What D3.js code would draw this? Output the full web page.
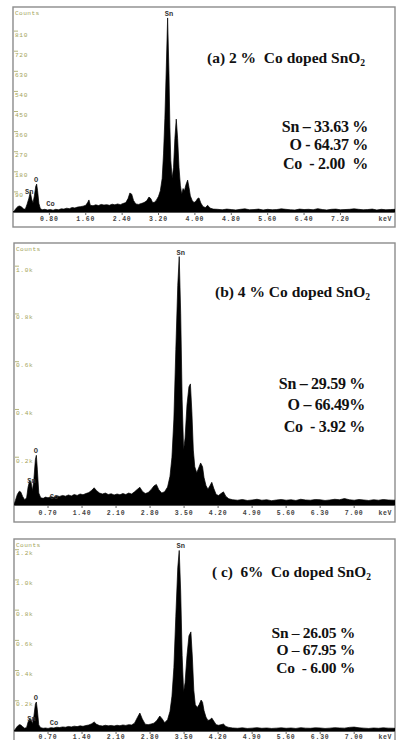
<!DOCTYPE html>
<html><head><meta charset="utf-8">
<script src="https://cdn.jsdelivr.net/npm/d3@7"></script>
<style>
html,body{margin:0;padding:0;background:#fff;}
svg{display:block;}
text{white-space:pre;}
</style></head>
<body>
<svg id="c" width="396" height="740"></svg>
<script>
// ---------- DATA ----------
// Panel (a) 2 % Co doped SnO2 : [energy keV, counts]
const specA = [[0.00,0],[0.03,6],[0.07,17],[0.11,25],[0.15,27],[0.19,22],[0.23,14],[0.27,12],[0.31,35],[0.35,62],[0.38,90],[0.41,58],[0.44,40],[0.47,72],[0.50,115],[0.52,125],[0.54,96],[0.57,38],[0.60,16],[0.64,10],[0.70,12],[0.76,9],[0.82,11],[0.88,8],[0.94,12],[1.00,10],[1.06,14],[1.12,13],[1.18,17],[1.24,15],[1.30,20],[1.36,18],[1.42,22],[1.48,24],[1.54,26],[1.60,30],[1.64,42],[1.67,54],[1.70,30],[1.76,28],[1.82,32],[1.88,29],[1.94,34],[2.00,31],[2.06,33],[2.12,30],[2.18,35],[2.24,32],[2.30,36],[2.36,33],[2.42,38],[2.48,42],[2.53,60],[2.57,85],[2.61,80],[2.65,52],[2.70,36],[2.76,34],[2.82,38],[2.88,42],[2.94,50],[2.99,67],[3.03,60],[3.07,42],[3.11,44],[3.15,52],[3.20,70],[3.24,95],[3.28,150],[3.31,260],[3.34,420],[3.37,640],[3.40,869],[3.43,620],[3.45,380],[3.47,230],[3.50,150],[3.53,200],[3.56,330],[3.59,416],[3.62,330],[3.65,200],[3.68,120],[3.71,80],[3.74,105],[3.77,95],[3.80,120],[3.84,143],[3.87,110],[3.90,72],[3.94,52],[3.98,42],[4.02,48],[4.06,60],[4.09,63],[4.13,40],[4.18,24],[4.23,20],[4.28,30],[4.33,18],[4.40,13],[4.5,12],[4.6,10],[4.7,13],[4.8,11],[4.9,9],[5.0,12],[5.1,14],[5.2,10],[5.3,11],[5.4,13],[5.5,9],[5.6,12],[5.7,10],[5.8,11],[5.9,14],[6.0,12],[6.1,10],[6.2,9],[6.3,13],[6.4,11],[6.5,12],[6.6,10],[6.7,15],[6.8,11],[6.9,9],[7.0,12],[7.1,13],[7.2,10],[7.3,11],[7.4,12],[7.5,14],[7.6,12],[7.7,10],[7.8,11],[7.9,13],[8.0,9],[8.1,12],[8.2,10],[8.3,11],[8.4,12]];

// Panel (b) 4 % Co doped SnO2
const specB = [[0.00,0],[0.03,20],[0.07,45],[0.11,58],[0.14,54],[0.18,35],[0.22,22],[0.26,30],[0.29,75],[0.32,100],[0.35,96],[0.38,60],[0.41,110],[0.44,190],[0.46,208],[0.48,150],[0.51,50],[0.55,30],[0.60,28],[0.65,33],[0.70,30],[0.76,35],[0.82,32],[0.88,38],[0.94,36],[1.00,40],[1.06,37],[1.12,42],[1.18,38],[1.24,44],[1.30,40],[1.36,46],[1.42,43],[1.48,48],[1.54,52],[1.60,62],[1.65,72],[1.70,60],[1.76,50],[1.82,46],[1.88,50],[1.94,44],[2.00,47],[2.06,42],[2.12,46],[2.18,43],[2.24,48],[2.30,44],[2.36,50],[2.42,46],[2.48,55],[2.54,66],[2.59,74],[2.64,58],[2.70,48],[2.76,52],[2.82,64],[2.88,80],[2.93,86],[2.98,64],[3.04,50],[3.10,56],[3.16,75],[3.21,120],[3.25,200],[3.29,360],[3.33,650],[3.37,920],[3.40,1040],[3.43,800],[3.46,440],[3.49,230],[3.52,280],[3.56,420],[3.60,495],[3.63,507],[3.66,390],[3.69,230],[3.72,160],[3.76,135],[3.80,155],[3.84,176],[3.88,160],[3.91,115],[3.95,82],[3.99,66],[4.03,80],[4.07,95],[4.11,70],[4.16,44],[4.21,40],[4.26,48],[4.31,55],[4.36,36],[4.42,26],[4.5,22],[4.6,20],[4.7,23],[4.8,19],[4.9,21],[5.0,24],[5.1,20],[5.2,22],[5.3,18],[5.4,21],[5.5,23],[5.6,20],[5.7,22],[5.8,19],[5.9,24],[6.0,21],[6.1,20],[6.2,23],[6.3,22],[6.4,19],[6.5,21],[6.6,24],[6.7,22],[6.8,27],[6.9,22],[7.0,20],[7.1,23],[7.2,21],[7.3,19],[7.4,22],[7.5,20],[7.6,23],[7.7,21],[7.84,20]];

// Panel (c) 6 % Co doped SnO2
const specC = [[0.00,0],[0.03,14],[0.07,32],[0.11,42],[0.14,40],[0.18,28],[0.22,18],[0.26,24],[0.29,60],[0.32,80],[0.35,76],[0.38,48],[0.41,100],[0.44,178],[0.46,192],[0.48,140],[0.51,40],[0.55,22],[0.60,18],[0.65,20],[0.70,17],[0.76,22],[0.82,20],[0.88,25],[0.94,23],[1.00,27],[1.06,25],[1.12,30],[1.18,27],[1.24,32],[1.30,29],[1.36,34],[1.42,31],[1.48,36],[1.54,40],[1.60,48],[1.65,60],[1.70,44],[1.76,36],[1.82,33],[1.88,38],[1.94,34],[2.00,37],[2.06,33],[2.12,38],[2.18,35],[2.24,40],[2.30,37],[2.36,42],[2.42,40],[2.48,52],[2.54,90],[2.59,119],[2.64,80],[2.70,45],[2.76,42],[2.82,46],[2.88,52],[2.94,70],[3.00,99],[3.05,80],[3.10,55],[3.16,75],[3.21,130],[3.25,230],[3.29,420],[3.33,760],[3.37,1080],[3.40,1195],[3.43,920],[3.46,500],[3.49,260],[3.52,320],[3.56,500],[3.60,630],[3.64,656],[3.67,490],[3.70,270],[3.73,175],[3.77,155],[3.81,175],[3.85,205],[3.88,190],[3.91,135],[3.95,92],[3.99,70],[4.03,74],[4.07,86],[4.11,66],[4.16,42],[4.21,38],[4.26,42],[4.31,46],[4.36,30],[4.42,24],[4.5,20],[4.6,18],[4.7,21],[4.8,17],[4.9,19],[5.0,22],[5.1,18],[5.2,20],[5.3,17],[5.4,19],[5.5,21],[5.6,18],[5.7,20],[5.8,17],[5.9,22],[6.0,19],[6.1,18],[6.2,21],[6.3,20],[6.4,17],[6.5,19],[6.6,22],[6.7,20],[6.8,19],[6.9,24],[7.0,26],[7.1,21],[7.2,19],[7.3,17],[7.4,20],[7.5,18],[7.6,21],[7.7,19],[7.84,18]];

const yTicksA = [90,180,270,360,450,540,630,720,810];
const yTickLabelsA = ["90","180","270","360","450","540","630","720","810"];
const yTicksBC = [200,400,600,800,1000,1200];
const yTickLabelsBC = ["0.2k","0.4k","0.6k","0.8k","1.0k","1.2k"];
const xTicksA = [0.8,1.6,2.4,3.2,4.0,4.8,5.6,6.4,7.2];
const xTicksBC = [0.7,1.4,2.1,2.8,3.5,4.2,4.9,5.6,6.3,7.0];

const titles = ["(a) 2 %  Co doped SnO", "(b) 4 % Co doped SnO", "( c)  6%  Co doped SnO"];
const compA = ["Sn \u2013 33.63 %", "O - 64.37 %", "Co  - 2.00  %"];
const compB = ["Sn \u2013 29.59 %", "O \u2013 66.49%", "Co  - 3.92 %"];
const compC = ["Sn \u2013 26.05 %", "O \u2013 67.95 %", "Co  - 6.00 %"];
const peakLabels = [["Sn",3.41],["Sn",0.37],["O",0.47],["Co",0.78]];

// ---------- LAYOUT ----------
const panels = [
  {spec:specA, left:13, right:395, top:7, bottom:227, base:212, xmax:8.4, ymax:918,
   yt:yTicksA, ytl:yTickLabelsA, xt:xTicksA, xfmt:d3.format(".2f"), xly:221,
   title:titles[0], tx:207, ty:63, tsize:15.5, comp:compA, cx:368, cy:[132,150,169], csize:16},
  {spec:specB, left:14, right:395, top:243, bottom:522, base:505, xmax:7.84, ymax:1097,
   yt:yTicksBC.slice(0,5), ytl:yTickLabelsBC.slice(0,5), xt:xTicksBC, xfmt:d3.format(".2f"), xly:515,
   title:titles[1], tx:215, ty:297, tsize:15.5, comp:compB, cx:365, cy:[389,410,432], csize:16},
  {spec:specC, left:14, right:395, top:539, bottom:748, base:731, xmax:7.84, ymax:1271,
   yt:yTicksBC, ytl:yTickLabelsBC, xt:xTicksBC, xfmt:d3.format(".2f"), xly:738.5,
   title:titles[2], tx:212, ty:577, tsize:15.3, comp:compC, cx:355, cy:[638,655,673], csize:15.5}
];

const svg = d3.select("#c");
const mono = "'Liberation Mono','DejaVu Sans Mono',monospace";
const serif = "'Liberation Serif','Times New Roman',serif";

panels.forEach((p,i)=>{
  const g = svg.append("g");
  const x = d3.scaleLinear().domain([0,p.xmax]).range([p.left,p.right]);
  const y = d3.scaleLinear().domain([0,p.ymax]).range([p.base,p.top]);
  const clipId = "clip"+i;
  svg.append("clipPath").attr("id",clipId).append("rect")
    .attr("x",p.left).attr("y",p.top).attr("width",p.right-p.left).attr("height",p.base-p.top);

  // frame
  g.append("rect").attr("x",p.left).attr("y",p.top).attr("width",p.right-p.left).attr("height",p.bottom-p.top)
    .attr("fill","#fff").attr("stroke","#8c8c8c").attr("stroke-width",1.4);

  // spectrum
  const area = d3.area().x(d=>x(d[0])).y0(y(0)).y1(d=>y(d[1]));
  g.append("path").datum(p.spec).attr("clip-path","url(#"+clipId+")")
    .attr("d",area).attr("fill","#000").attr("stroke","#000").attr("stroke-width",0.7);

  // x axis line
  g.append("line").attr("x1",p.left).attr("x2",p.right).attr("y1",p.base+0.5).attr("y2",p.base+0.5)
    .attr("stroke","#555").attr("stroke-width",1);
  // x ticks + labels
  const xa = g.append("g");
  xa.selectAll("line").data(p.xt).join("line")
    .attr("x1",d=>x(d)).attr("x2",d=>x(d)).attr("y1",p.base+1).attr("y2",p.base+3)
    .attr("stroke","#666").attr("stroke-width",1);
  xa.selectAll("text").data(p.xt).join("text")
    .attr("x",d=>x(d)).attr("y",p.xly).attr("text-anchor","middle")
    .attr("font-family",mono).attr("font-size",6.5).attr("letter-spacing",0.8)
    .attr("font-weight","bold").attr("fill","#444").text(d=>p.xfmt(d));
  xa.append("text").attr("x",p.right-3).attr("y",p.xly).attr("text-anchor","end")
    .attr("font-family",mono).attr("font-size",6.5).attr("letter-spacing",0.6)
    .attr("font-weight","bold").attr("fill","#444").text("keV");

  // y ticks + labels
  const ya = g.append("g");
  ya.selectAll("line").data(p.yt).join("line")
    .attr("x1",p.left+1).attr("x2",p.left+5).attr("y1",d=>y(d)).attr("y2",d=>y(d))
    .attr("stroke","#a3a35a").attr("stroke-width",0.8);
  ya.selectAll("text").data(p.yt).join("text")
    .attr("x",p.left+2).attr("y",d=>y(d)+5.5)
    .attr("font-family",mono).attr("font-size",6.2).attr("letter-spacing",0.6)
    .attr("fill","#a3a35a").text((d,j)=>p.ytl[j]);
  ya.append("text").attr("x",p.left+2).attr("y",p.top+8)
    .attr("font-family",mono).attr("font-size",6.2).attr("letter-spacing",0.4)
    .attr("fill","#a3a35a").text("Counts");

  // peak labels
  const pk = g.append("g").attr("font-family",mono).attr("font-size",7).attr("font-weight","bold")
    .attr("fill","#333").attr("text-anchor","middle");
  const top = d3.max(p.spec.filter(d=>Math.abs(d[0]-3.41)<0.05), d=>d[1]);
  pk.append("text").attr("x",x(peakLabels[0][1])+1).attr("y",y(top)-2).text(peakLabels[0][0]);
  const oTop = d3.max(p.spec.filter(d=>d[0]>0.4&&d[0]<0.56), d=>d[1]);
  const snTop = d3.max(p.spec.filter(d=>d[0]>0.28&&d[0]<0.4), d=>d[1]);
  pk.append("text").attr("x",x(0.38)-1).attr("y",y(snTop)+2).text(peakLabels[1][0]);
  pk.append("text").attr("x",x(i===0?0.51:0.45)).attr("y",y(oTop)-2).text(peakLabels[2][0]);
  pk.append("text").attr("x",x(peakLabels[3][1])+2).attr("y",y(0)-6).text(peakLabels[3][0]);

  // title
  const t = g.append("text").attr("x",p.tx).attr("y",p.ty).attr("font-family",serif)
    .attr("font-weight","bold").attr("font-size",p.tsize).attr("fill","#111").attr("letter-spacing",0);
  t.append("tspan").text(p.title);
  t.append("tspan").attr("font-size",p.tsize*0.62).attr("dy",3).text("2");

  // composition
  g.append("g").selectAll("text").data(p.comp).join("text")
    .attr("x",p.cx).attr("y",(d,j)=>p.cy[j]).attr("text-anchor","end")
    .attr("font-family",serif).attr("font-weight","bold").attr("font-size",p.csize)
    .attr("fill","#111").attr("letter-spacing",-0.3).text(d=>d);
});
</script>
</body></html>
